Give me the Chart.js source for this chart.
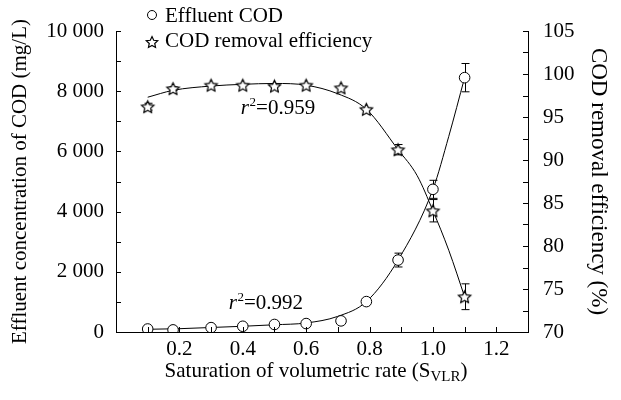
<!DOCTYPE html>
<html>
<head>
<meta charset="utf-8">
<script src="https://cdn.jsdelivr.net/npm/chart.js@4.4.0/dist/chart.umd.min.js"></script>
<style>
  html, body { margin: 0; padding: 0; background: #fff; }
</style>
</head>
<body>
<canvas id="codChart" width="621" height="400"></canvas>
<script>
// measured points
const satX = [0.1, 0.18, 0.3, 0.4, 0.5, 0.6, 0.71, 0.79, 0.89, 1.0, 1.1];
const codVals = [100, 70, 145, 190, 250, 280, 370, 1010, 2390, 4740, 8450];
const codErr = [0, 0, 0, 0, 0, 0, 0, 0, 230, 300, 470];
const effVals = [96.2, 98.3, 98.7, 98.7, 98.6, 98.7, 98.4, 95.9, 91.2, 84.1, 74.1];
const effErr = [0.4, 0.2, 0, 0, 0, 0, 0, 0, 0.6, 1.3, 1.5];

// fitted curves
const codFitX = [0.1, 0.2, 0.3, 0.4, 0.5, 0.6, 0.7, 0.79, 0.89, 1.0, 1.05, 1.1];
const codFitY = [90, 110, 150, 190, 240, 300, 520, 1010, 2390, 4740, 6500, 8450];
const effFitX = [0.1, 0.18, 0.3, 0.4, 0.5, 0.6, 0.7, 0.79, 0.89, 0.95, 1.0, 1.05, 1.1];
const effFitY = [97.3, 98.1, 98.6, 98.8, 98.9, 98.7, 97.7, 95.9, 91.2, 88.2, 84.1, 79.5, 74.1];

const fitLabels = ['r²=0.992', 'r²=0.959'];
const legendLabels = ['Effluent COD', 'COD removal efficiency'];

const FONT = '"Liberation Serif", "Times New Roman", serif';

function spaced(v) {
  return String(v).replace(/\B(?=(\d{3})+(?!\d))/g, ' ');
}

// five pointed star marker
function makeStar(r) {
  const c = document.createElement('canvas');
  const s = Math.ceil(r * 2 + 4);
  c.width = s; c.height = s;
  const g = c.getContext('2d');
  const cx = s / 2, cy = s / 2 + r * 0.1;
  g.beginPath();
  for (let k = 0; k < 10; k++) {
    const a = -Math.PI / 2 + k * Math.PI / 5;
    const rr = k % 2 ? r * 0.48 : r;
    g.lineTo(cx + rr * Math.cos(a), cy + rr * Math.sin(a));
  }
  g.closePath();
  g.fillStyle = '#fff';
  g.fill();
  g.lineWidth = 1.2;
  g.strokeStyle = '#000';
  g.stroke();
  return c;
}
const starImg = makeStar(6.5);
const starSmall = makeStar(6);

function toXY(xs, ys) {
  return xs.map((x, i) => ({ x: x, y: ys[i] }));
}

function drawR2(ctx, text, x, y) {
  // text like r²=0.959, r italic, 2 as superscript
  const rest = text.slice(2);
  ctx.textBaseline = 'middle';
  ctx.textAlign = 'left';
  ctx.fillStyle = '#000';
  ctx.font = 'italic 21px ' + FONT;
  ctx.fillText('r', x, y);
  let w = ctx.measureText('r').width;
  ctx.font = '13px ' + FONT;
  ctx.fillText('2', x + w + 0.5, y - 6);
  w += ctx.measureText('2').width + 0.5;
  ctx.font = '21px ' + FONT;
  ctx.fillText(rest, x + w, y);
}

const decor = {
  id: 'decor',
  beforeDatasetsDraw(chart) {
    const ctx = chart.ctx;
    const xs = chart.scales.x;
    ctx.save();
    ctx.strokeStyle = '#000';
    ctx.lineWidth = 1;
    const bars = [[chart.scales.y, codVals, codErr], [chart.scales.y1, effVals, effErr]];
    bars.forEach(([ys, vals, errs]) => {
      vals.forEach((v, i) => {
        if (!errs[i]) return;
        const px = Math.round(xs.getPixelForValue(satX[i])) + 0.5;
        const top = ys.getPixelForValue(v + errs[i]);
        const bot = ys.getPixelForValue(v - errs[i]);
        ctx.beginPath();
        ctx.moveTo(px, top); ctx.lineTo(px, bot);
        ctx.moveTo(px - 4, top); ctx.lineTo(px + 4, top);
        ctx.moveTo(px - 4, bot); ctx.lineTo(px + 4, bot);
        ctx.stroke();
      });
    });
    ctx.restore();
  },
  afterDraw(chart) {
    const ctx = chart.ctx;
    const area = chart.chartArea;
    const { x, y, y1 } = chart.scales;
    ctx.save();
    ctx.strokeStyle = '#000';
    ctx.lineWidth = 1;
    ctx.beginPath();
    // inward tick marks
    x.ticks.forEach(t => {
      const px = Math.round(x.getPixelForValue(t.value)) + 0.5;
      ctx.moveTo(px, area.bottom); ctx.lineTo(px, area.bottom - 5);
    });
    y.ticks.forEach(t => {
      const py = Math.round(y.getPixelForValue(t.value)) + 0.5;
      ctx.moveTo(area.left, py); ctx.lineTo(area.left + 5, py);
    });
    y1.ticks.forEach(t => {
      const py = Math.round(y1.getPixelForValue(t.value)) + 0.5;
      ctx.moveTo(area.right, py); ctx.lineTo(area.right - 5, py);
    });
    ctx.stroke();

    // legend
    ctx.font = '21px ' + FONT;
    ctx.textAlign = 'left';
    ctx.textBaseline = 'middle';
    ctx.beginPath();
    ctx.arc(152, 15, 4.5, 0, Math.PI * 2);
    ctx.fillStyle = '#fff';
    ctx.fill();
    ctx.stroke();
    ctx.drawImage(starSmall, 152 - starSmall.width / 2, 42 - starSmall.height / 2);
    ctx.fillStyle = '#000';
    ctx.fillText(legendLabels[0], 165, 16);
    ctx.fillText(legendLabels[1], 165, 41);

    // r² notes
    drawR2(ctx, fitLabels[0], x.getPixelForValue(0.356), y.getPixelForValue(933));
    drawR2(ctx, fitLabels[1], x.getPixelForValue(0.394), y1.getPixelForValue(96.0));

    // x axis title with subscript
    const a = 'Saturation of volumetric rate (S';
    const sub = 'VLR';
    const b = ')';
    ctx.font = '21px ' + FONT;
    const wa = ctx.measureText(a).width;
    const wb = ctx.measureText(b).width;
    ctx.font = '15px ' + FONT;
    const ws = ctx.measureText(sub).width;
    const sx = 316 - (wa + ws + wb) / 2;
    const base = 377;
    ctx.textBaseline = 'alphabetic';
    ctx.font = '21px ' + FONT;
    ctx.fillText(a, sx, base);
    ctx.font = '15px ' + FONT;
    ctx.fillText(sub, sx + wa, base + 4);
    ctx.font = '21px ' + FONT;
    ctx.fillText(b, sx + wa + ws, base);
    ctx.restore();
  }
};

const ctx = document.getElementById('codChart').getContext('2d');

const codChart = new Chart(ctx, {
  type: 'scatter',
  data: {
    datasets: [
      {
        label: legendLabels[0],
        data: toXY(satX, codVals),
        yAxisID: 'y',
        pointStyle: 'circle',
        pointRadius: 5.3,
        backgroundColor: '#fff',
        borderColor: '#000',
        borderWidth: 1,
        order: 1
      },
      {
        label: legendLabels[1],
        data: toXY(satX, effVals),
        yAxisID: 'y1',
        pointStyle: starImg,
        pointRadius: 7,
        order: 1
      },
      {
        label: 'COD fit',
        data: toXY(codFitX, codFitY),
        yAxisID: 'y',
        showLine: true,
        pointRadius: 0,
        borderColor: '#000',
        borderWidth: 1,
        cubicInterpolationMode: 'monotone',
        order: 2
      },
      {
        label: 'Efficiency fit',
        data: toXY(effFitX, effFitY),
        yAxisID: 'y1',
        showLine: true,
        pointRadius: 0,
        borderColor: '#000',
        borderWidth: 1,
        cubicInterpolationMode: 'monotone',
        order: 2
      }
    ]
  },
  options: {
    responsive: false,
    animation: false,
    events: [],
    layout: { padding: { top: 31, left: 0, right: 0, bottom: 0 } },
    plugins: {
      legend: { display: false },
      tooltip: { enabled: false }
    },
    scales: {
      x: {
        type: 'linear',
        min: 0,
        max: 1.3,
        afterFit: function (scale) { scale.height = 68; },
        grid: { display: false, drawTicks: false },
        border: { display: true, color: '#000', width: 1 },
        ticks: {
          stepSize: 0.1,
          autoSkip: false,
          maxRotation: 0,
          padding: 5,
          color: '#000',
          font: { family: FONT, size: 21 },
          callback: function (value) {
            const k = Math.round(value * 10);
            return (k > 0 && k <= 12 && k % 2 === 0) ? (k / 10).toFixed(1) : '';
          }
        }
      },
      y: {
        position: 'left',
        min: 0,
        max: 10000,
        afterFit: function (scale) { scale.width = 116; },
        grid: { display: false, drawTicks: false },
        border: { display: true, color: '#000', width: 1 },
        ticks: {
          stepSize: 1000,
          autoSkip: false,
          padding: 12,
          color: '#000',
          font: { family: FONT, size: 21 },
          callback: function (value) {
            return value % 2000 === 0 ? spaced(value) : '';
          }
        },
        title: {
          display: true,
          text: 'Effluent concentration of COD (mg/L)',
          color: '#000',
          font: { family: FONT, size: 21 },
          padding: { top: 8, bottom: 0 }
        }
      },
      y1: {
        position: 'right',
        min: 70,
        max: 105,
        afterFit: function (scale) { scale.width = 93; },
        grid: { display: false, drawTicks: false },
        border: { display: true, color: '#000', width: 1 },
        ticks: {
          stepSize: 2.5,
          autoSkip: false,
          padding: 15,
          color: '#000',
          font: { family: FONT, size: 21 },
          callback: function (value) {
            return value % 5 === 0 ? String(value) : '';
          }
        },
        title: {
          display: true,
          text: 'COD removal efficiency (%)',
          color: '#000',
          font: { family: FONT, size: 23 },
          padding: { top: 9, bottom: 0 }
        }
      }
    }
  },
  plugins: [decor]
});
</script>
</body>
</html>
